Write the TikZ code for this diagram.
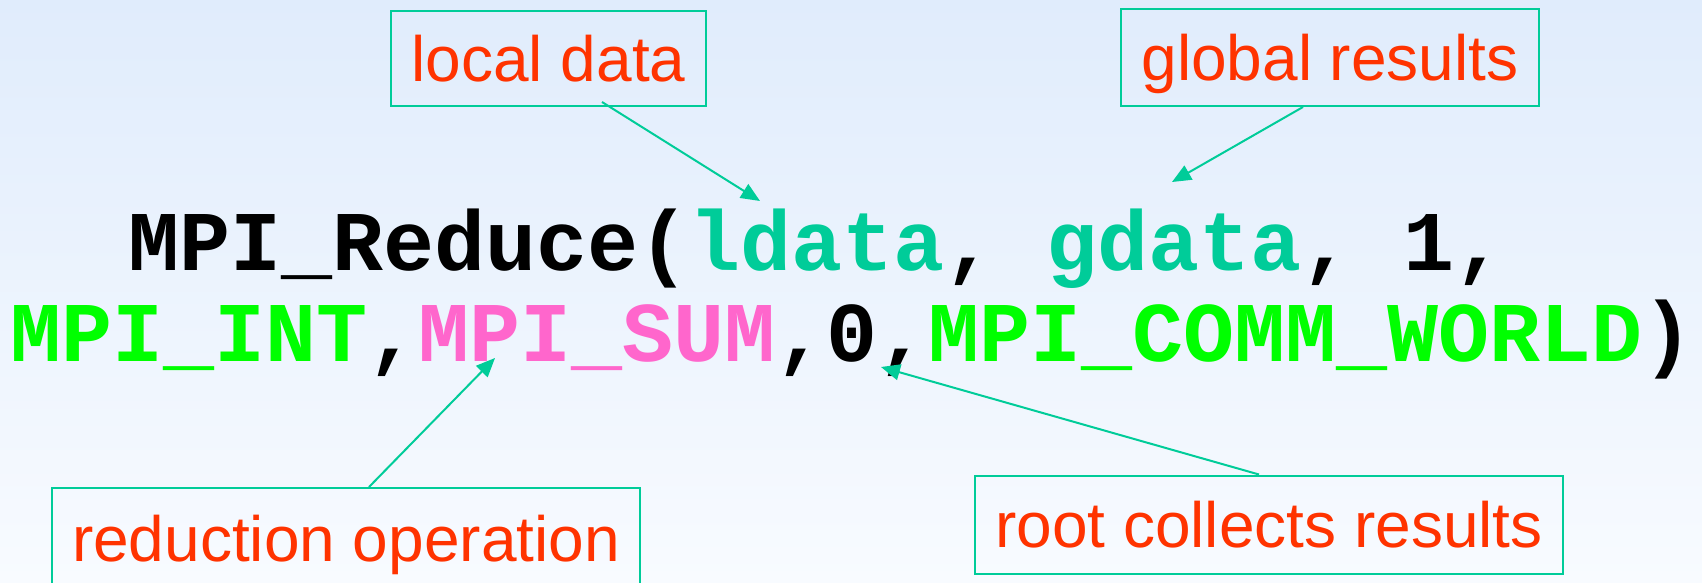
\documentclass[tikz,border=0pt]{standalone}
\usepackage{fontspec}
\setmainfont{Liberation Sans}
\newfontfamily\codefont{Liberation Mono}
\usetikzlibrary{arrows.meta}
\definecolor{bgtop}{RGB}{224,236,252}
\definecolor{bgbot}{RGB}{248,251,255}
\definecolor{teal}{RGB}{0,204,153}
\definecolor{lblred}{RGB}{255,51,0}
\definecolor{codegreen}{RGB}{0,255,0}
\definecolor{codepink}{RGB}{255,102,204}
\tikzset{
  lbl/.style={draw=teal, line width=1pt, text=lblred, inner sep=0pt,
    font=\fontsize{32}{38}\selectfont, text height=23pt, text depth=0pt, align=center},
  codeline/.style={anchor=base west, inner sep=0pt,
    font=\codefont\bfseries\fontsize{42.5}{50}\selectfont},
  pointer/.style={draw=teal, line width=1pt, -{Triangle[length=9.5pt,width=8pt]}}
}
\begin{document}
\begin{tikzpicture}[x=0.5pt,y=-0.5pt]
\useasboundingbox (0,0) rectangle (1702,583);
\clip (0,0) rectangle (1702,583);
\shade[top color=bgtop, bottom color=bgbot] (0,0) rectangle (1702,583);

\node[codeline] (code1) at (128,270) {MPI\_Reduce(\textcolor{teal}{ldata}, \textcolor{teal}{gdata}, 1,};
\node[codeline] (code2) at (10,361) {\textcolor{codegreen}{MPI\_INT},\textcolor{codepink}{MPI\_SUM},0,\textcolor{codegreen}{MPI\_COMM\_WORLD})};

\node[lbl, minimum width=157.5pt, minimum height=47.5pt] (local) at (548.5,58.5) {local data};
\node[lbl, minimum width=209pt, minimum height=48.5pt] (global) at (1330,57.5) {global results};
\node[lbl, minimum width=294pt, minimum height=50pt] (reduc) at (346,538) {reduction operation};
\node[lbl, minimum width=294pt, minimum height=49pt] (root) at (1269,524.5) {root collects results};

\coordinate (ltip) at (760,201);
\coordinate (gtip) at (1172,182);
\coordinate (rtip) at (495,358);
\coordinate (ztip) at (881,367);

\draw[pointer] ([xshift=26.75pt,yshift=2.5pt]local.south) -- (ltip);
\draw[pointer] ([xshift=-13.5pt]global.south) -- (gtip);
\draw[pointer] ([xshift=11.5pt]reduc.north) -- (rtip);
\draw[pointer] ([xshift=-5pt]root.north) -- (ztip);
\end{tikzpicture}
\end{document}
